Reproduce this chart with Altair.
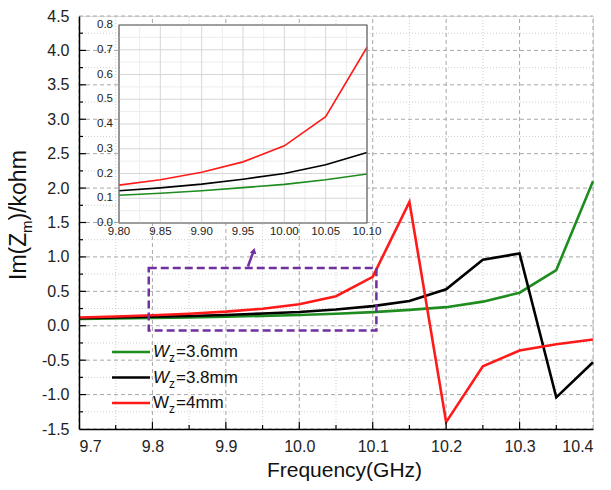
import altair as alt
import pandas as pd

# ---------------- data ----------------
freq = [9.70, 9.75, 9.80, 9.85, 9.90, 9.95, 10.00, 10.05, 10.10, 10.15, 10.20, 10.25, 10.30, 10.35, 10.40]
wz36 = [0.100, 0.105, 0.112, 0.120, 0.130, 0.143, 0.156, 0.175, 0.198, 0.23, 0.27, 0.35, 0.48, 0.81, 2.10]
wz38 = [0.110, 0.120, 0.130, 0.142, 0.157, 0.177, 0.200, 0.235, 0.285, 0.36, 0.53, 0.96, 1.05, -1.04, -0.53]
wz40 = [0.120, 0.135, 0.153, 0.175, 0.205, 0.247, 0.312, 0.430, 0.710, 1.80, -1.40, -0.59, -0.36, -0.27, -0.20]
series_names = ["Wz=3.6mm", "Wz=3.8mm", "Wz=4mm"]
series_colors = ["#1e8c1e", "#000000", "#ff1a1a"]
legend_values = ["=3.6mm", "=3.8mm", "=4mm"]
legend_italic = [True, True, False]

x_major = [9.7, 9.8, 9.9, 10.0, 10.1, 10.2, 10.3, 10.4]
x_minor = [9.75, 9.85, 9.95, 10.05, 10.15, 10.25, 10.35]
y_major = [-1.5, -1.0, -0.5, 0.0, 0.5, 1.0, 1.5, 2.0, 2.5, 3.0, 3.5, 4.0, 4.5]
y_minor = [-1.25, -0.75, -0.25, 0.25, 0.75, 1.25, 1.75, 2.25, 2.75, 3.25, 3.75, 4.25]

inset_x_ticks = [9.80, 9.85, 9.90, 9.95, 10.00, 10.05, 10.10]
inset_x_minor = [9.825, 9.875, 9.925, 9.975, 10.025, 10.075]
inset_y_ticks = [0.0, 0.1, 0.2, 0.3, 0.4, 0.5, 0.6, 0.7, 0.8]
inset_y_minor = [0.05, 0.15, 0.25, 0.35, 0.45, 0.55, 0.65, 0.75]
inset_x_domain = [9.80, 10.10]
inset_y_domain = [0.0, 0.8]

box_x = [9.795, 10.105]
box_y = [-0.07, 0.84]
arrow_x = [9.930, 9.938]
arrow_y = [0.86, 1.09]

# ---------------- layout ----------------
W, H = 514, 413
FONT = "Liberation Sans"
PURPLE = "#7030a0"
IN_X0, IN_X1, IN_Y0, IN_Y1 = 40, 288, 207, 9  # inset pixel range

rows = []
for name, vals in zip(series_names, [wz36, wz38, wz40]):
    for f, v in zip(freq, vals):
        rows.append({"freq": f, "val": v, "series": name})
df = pd.DataFrame(rows)

main_x = alt.Scale(domain=[9.7, 10.4], range=[0, W], nice=False, zero=False)
main_y = alt.Scale(domain=[-1.5, 4.5], range=[H, 0], nice=False, zero=False)
color_scale = alt.Scale(domain=series_names, range=series_colors)

lab_expr = "replace(format(datum.value, '.1f'), '\u2212', '-')"

def vrules(vals, color, dash, width=1):
    d = pd.DataFrame({"v": vals, "a": -1.5, "b": 4.5})
    return alt.Chart(d).mark_rule(color=color, strokeDash=dash, strokeWidth=width).encode(
        x=alt.X("v:Q", scale=main_x, axis=None),
        y=alt.Y("a:Q", scale=main_y, axis=None), y2="b:Q")

def hrules(vals, color, dash, width=1):
    d = pd.DataFrame({"v": vals, "a": 9.7, "b": 10.4})
    return alt.Chart(d).mark_rule(color=color, strokeDash=dash, strokeWidth=width).encode(
        y=alt.Y("v:Q", scale=main_y, axis=None),
        x=alt.X("a:Q", scale=main_x, axis=None), x2="b:Q")

grid_layers = [
    vrules(x_minor, "#cfcfcf", [1, 2]),
    hrules(y_minor, "#cfcfcf", [1, 2]),
    vrules(x_major, "#a8a8a8", [4, 3]),
    hrules(y_major, "#a8a8a8", [4, 3]),
]

lines = alt.Chart(df).mark_line(strokeWidth=2.6).encode(
    x=alt.X("freq:Q", scale=main_x, title="Frequency(GHz)",
            axis=alt.Axis(values=x_major, labelExpr=lab_expr, grid=False, ticks=False, tickSize=0,
                          orient="bottom",
                          labelPadding=9, labelFontSize=16, labelFont=FONT, labelColor="#222",
                          domainColor="#000", domainWidth=1.5, titleFontSize=21, titleFont=FONT,
                          titleFontWeight="normal", titleColor="#111", titlePadding=5, titleX=265,
                          zindex=1)),
    y=alt.Y("val:Q", scale=main_y, title="",
            axis=alt.Axis(values=y_major, labelExpr=lab_expr, grid=False, ticks=False, tickSize=0,
                          orient="left",
                          labelPadding=10, labelFontSize=16, labelFont=FONT, labelColor="#222",
                          domainColor="#000", domainWidth=1.5, zindex=1)),
    color=alt.Color("series:N", scale=color_scale, legend=None),
    order=alt.Order("freq:Q"),
)

box = alt.Chart(pd.DataFrame({"x0": [box_x[0]], "x1": [box_x[1]], "y0": [box_y[0]], "y1": [box_y[1]]})).mark_rect(
    fillOpacity=0, stroke=PURPLE, strokeWidth=2.5, strokeDash=[8, 4]
).encode(
    x=alt.X("x0:Q", scale=main_x, axis=None), x2="x1:Q",
    y=alt.Y("y0:Q", scale=main_y, axis=None), y2="y1:Q",
)

arrow_line = alt.Chart(pd.DataFrame({"x0": [arrow_x[0]], "x1": [arrow_x[1]], "y0": [arrow_y[0]], "y1": [arrow_y[1]]})).mark_rule(
    color=PURPLE, strokeWidth=2.5
).encode(
    x=alt.X("x0:Q", scale=main_x, axis=None), x2="x1:Q",
    y=alt.Y("y0:Q", scale=main_y, axis=None), y2="y1:Q",
)
arrow_head = alt.Chart(pd.DataFrame({"x": [arrow_x[1]], "y": [arrow_y[1]]})).mark_point(
    shape="triangle-up", filled=True, color=PURPLE, size=45, angle=14, opacity=1
).encode(
    x=alt.X("x:Q", scale=main_x, axis=None),
    y=alt.Y("y:Q", scale=main_y, axis=None),
)

def xticks(vals, length):
    return alt.Chart(pd.DataFrame({"v": vals})).mark_rule(color="#000", strokeWidth=1.2).encode(
        x=alt.X("v:Q", scale=main_x, axis=None), y=alt.value(H), y2=alt.value(H - length))

def yticks(vals, length):
    return alt.Chart(pd.DataFrame({"v": vals})).mark_rule(color="#000", strokeWidth=1.2).encode(
        y=alt.Y("v:Q", scale=main_y, axis=None), x=alt.value(0), x2=alt.value(length))

tick_layers = [xticks(x_major[1:-1], 7), xticks(x_minor, 4), yticks(y_major[1:-1], 7), yticks(y_minor, 4)]

one = pd.DataFrame({"k": [0]})
legend_layers = []
for i, (name, col) in enumerate(zip(series_names, series_colors)):
    ly = 336 + i * 25.5
    legend_layers.append(alt.Chart(one).mark_rule(color=col, strokeWidth=2.6).encode(
        x=alt.value(33), x2=alt.value(71), y=alt.value(ly)))
    legend_layers.append(alt.Chart(one).mark_text(
        text="W", font=FONT, fontSize=17, fontStyle="italic" if legend_italic[i] else "normal",
        align="left", baseline="middle", color="#111").encode(x=alt.value(74), y=alt.value(ly)))
    legend_layers.append(alt.Chart(one).mark_text(
        text="z", font=FONT, fontSize=12, align="left", baseline="middle", color="#111").encode(
        x=alt.value(90), y=alt.value(ly + 6)))
    legend_layers.append(alt.Chart(one).mark_text(
        text=legend_values[i], font=FONT, fontSize=17, align="left", baseline="middle", color="#111").encode(
        x=alt.value(97), y=alt.value(ly)))

ytitle_layers = [
    alt.Chart(one).mark_text(text="Im(Z", font=FONT, fontSize=23, angle=270, align="left",
                             baseline="alphabetic", color="#111").encode(x=alt.value(-53), y=alt.value(264)),
    alt.Chart(one).mark_text(text="m", font=FONT, fontSize=15, angle=270, align="left",
                             baseline="alphabetic", color="#111").encode(x=alt.value(-47), y=alt.value(217)),
    alt.Chart(one).mark_text(text=")/kohm", font=FONT, fontSize=23, angle=270, align="left",
                             baseline="alphabetic", color="#111").encode(x=alt.value(-53), y=alt.value(204.5)),
]

# ---------------- inset ----------------
in_x = alt.Scale(domain=inset_x_domain, range=[IN_X0, IN_X1], nice=False, zero=False)
in_y = alt.Scale(domain=inset_y_domain, range=[IN_Y0, IN_Y1], nice=False, zero=False)

frame_df = pd.DataFrame({"x0": [inset_x_domain[0]], "x1": [inset_x_domain[1]],
                         "y0": [inset_y_domain[0]], "y1": [inset_y_domain[1]]})
inset_bg = alt.Chart(frame_df).mark_rect(fill="white", stroke="#888", strokeWidth=1).encode(
    x=alt.X("x0:Q", scale=in_x, axis=None), x2="x1:Q",
    y=alt.Y("y0:Q", scale=in_y, axis=None), y2="y1:Q")
inset_frame = alt.Chart(frame_df).mark_rect(fillOpacity=0, stroke="#7a7a7a", strokeWidth=1.2).encode(
    x=alt.X("x0:Q", scale=in_x, axis=None), x2="x1:Q",
    y=alt.Y("y0:Q", scale=in_y, axis=None), y2="y1:Q")

def in_vrules(vals, color):
    d = pd.DataFrame({"v": vals, "a": inset_y_domain[0], "b": inset_y_domain[1]})
    return alt.Chart(d).mark_rule(color=color, strokeWidth=1).encode(
        x=alt.X("v:Q", scale=in_x, axis=None), y=alt.Y("a:Q", scale=in_y, axis=None), y2="b:Q")

def in_hrules(vals, color):
    d = pd.DataFrame({"v": vals, "a": inset_x_domain[0], "b": inset_x_domain[1]})
    return alt.Chart(d).mark_rule(color=color, strokeWidth=1).encode(
        y=alt.Y("v:Q", scale=in_y, axis=None), x=alt.X("a:Q", scale=in_x, axis=None), x2="b:Q")

inset_grid = [in_vrules(inset_x_minor, "#ececec"), in_hrules(inset_y_minor, "#ececec"),
              in_vrules(inset_x_ticks[1:-1], "#d6d6d6"), in_hrules(inset_y_ticks[1:-1], "#d6d6d6")]

inset_lines = alt.Chart(df).mark_line(strokeWidth=1.6).encode(
    x=alt.X("freq:Q", scale=in_x, axis=None),
    y=alt.Y("val:Q", scale=in_y, axis=None),
    color=alt.Color("series:N", scale=color_scale, legend=None),
    order=alt.Order("freq:Q"),
).transform_filter(
    (alt.datum.freq >= inset_x_domain[0] - 1e-9) & (alt.datum.freq <= inset_x_domain[1] + 1e-9)
)

xlab_df = pd.DataFrame({"v": inset_x_ticks, "t": [f"{v:.2f}" for v in inset_x_ticks]})
inset_xlabels = alt.Chart(xlab_df).mark_text(font=FONT, fontSize=11.5, baseline="top", align="center",
                                              color="#222").encode(
    x=alt.X("v:Q", scale=in_x, axis=None), y=alt.value(IN_Y0 + 3), text="t:N")
ylab_df = pd.DataFrame({"v": inset_y_ticks, "t": [f"{v:.1f}" for v in inset_y_ticks]})
inset_ylabels = alt.Chart(ylab_df).mark_text(font=FONT, fontSize=11.5, baseline="middle", align="right",
                                              color="#222").encode(
    y=alt.Y("v:Q", scale=in_y, axis=None), x=alt.value(IN_X0 - 6), text="t:N")

inset_layers = [inset_bg, *inset_grid, inset_lines, inset_frame, inset_xlabels, inset_ylabels]

chart = alt.layer(
    *grid_layers, lines, box, arrow_line, arrow_head, *tick_layers, *legend_layers, *ytitle_layers,
    *inset_layers
).resolve_scale(x="independent", y="independent").properties(
    width=W, height=H,
    autosize=alt.AutoSizeParams(type="none"),
    padding={"left": 71, "top": 8, "right": 10, "bottom": 53},
).configure_view(stroke="#8a8a8a", strokeWidth=1.2).configure(background="white")

chart.save("out.html", embed_options={"renderer": "svg", "actions": False})
